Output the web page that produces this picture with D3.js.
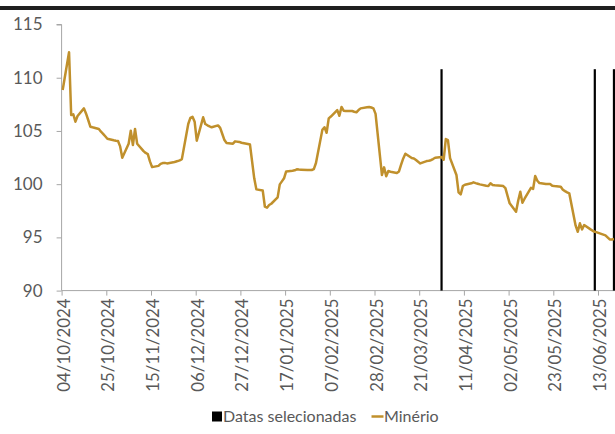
<!DOCTYPE html>
<html>
<head>
<meta charset="utf-8">
<script src="https://cdn.jsdelivr.net/npm/d3@7"></script>
<style>
  html, body { margin: 0; padding: 0; background: #ffffff; }
  svg { display: block; }
  text { font-family: Lato, "Open Sans", "Liberation Sans", sans-serif; fill: #595959; }
</style>
</head>
<body>
<svg id="chart" width="615" height="434"></svg>
<script>
// ---------- DATA ----------
const dates = [
  "04/10/2024","07/10/2024","08/10/2024","09/10/2024","10/10/2024","11/10/2024",
  "14/10/2024","15/10/2024","16/10/2024","17/10/2024","18/10/2024",
  "21/10/2024","22/10/2024","23/10/2024","24/10/2024","25/10/2024",
  "28/10/2024","29/10/2024","30/10/2024","31/10/2024","01/11/2024",
  "04/11/2024","05/11/2024","06/11/2024","07/11/2024","08/11/2024",
  "11/11/2024","12/11/2024","13/11/2024","14/11/2024","15/11/2024",
  "18/11/2024","19/11/2024","20/11/2024","21/11/2024","22/11/2024",
  "25/11/2024","26/11/2024","27/11/2024","28/11/2024","29/11/2024",
  "02/12/2024","03/12/2024","04/12/2024","05/12/2024","06/12/2024",
  "09/12/2024","10/12/2024","11/12/2024","12/12/2024","13/12/2024",
  "16/12/2024","17/12/2024","18/12/2024","19/12/2024","20/12/2024",
  "23/12/2024","24/12/2024","26/12/2024","27/12/2024",
  "30/12/2024","31/12/2024","02/01/2025","03/01/2025",
  "06/01/2025","07/01/2025","08/01/2025","09/01/2025","10/01/2025",
  "13/01/2025","14/01/2025","15/01/2025","16/01/2025","17/01/2025",
  "20/01/2025","21/01/2025","22/01/2025","23/01/2025","24/01/2025",
  "27/01/2025","28/01/2025","29/01/2025","30/01/2025","31/01/2025",
  "03/02/2025","04/02/2025","05/02/2025","06/02/2025","07/02/2025",
  "10/02/2025","11/02/2025","12/02/2025","13/02/2025","14/02/2025",
  "17/02/2025","18/02/2025","19/02/2025","20/02/2025","21/02/2025",
  "24/02/2025","25/02/2025","26/02/2025","27/02/2025","28/02/2025",
  "03/03/2025","04/03/2025","05/03/2025","06/03/2025","07/03/2025",
  "10/03/2025","11/03/2025","12/03/2025","13/03/2025","14/03/2025",
  "17/03/2025","18/03/2025","19/03/2025","20/03/2025","21/03/2025",
  "24/03/2025","25/03/2025","26/03/2025","27/03/2025","28/03/2025",
  "31/03/2025","01/04/2025","02/04/2025","03/04/2025","04/04/2025",
  "07/04/2025","08/04/2025","09/04/2025","10/04/2025","11/04/2025",
  "14/04/2025","15/04/2025","16/04/2025","17/04/2025","18/04/2025",
  "21/04/2025","22/04/2025","23/04/2025","24/04/2025","25/04/2025",
  "28/04/2025","29/04/2025","30/04/2025","02/05/2025",
  "05/05/2025","06/05/2025","07/05/2025","08/05/2025","09/05/2025",
  "12/05/2025","13/05/2025","14/05/2025","15/05/2025","16/05/2025",
  "19/05/2025","20/05/2025","21/05/2025","22/05/2025","23/05/2025",
  "26/05/2025","27/05/2025","28/05/2025","29/05/2025","30/05/2025",
  "02/06/2025","03/06/2025","04/06/2025","05/06/2025","06/06/2025",
  "09/06/2025","10/06/2025","11/06/2025","12/06/2025","13/06/2025",
  "16/06/2025","17/06/2025","18/06/2025","19/06/2025","20/06/2025"
];
const minerio = [
  108.84,112.39,106.5,106.56,105.87,106.4,
  107.12,106.62,106.03,105.4,105.34,
  105.18,104.93,104.73,104.5,104.27,
  104.12,104.08,104.05,103.55,102.48,
  103.8,105.02,103.67,105.18,103.8,
  103.1,102.93,102.83,102.14,101.6,
  101.72,101.9,101.98,102.0,101.95,
  102.05,102.11,102.17,102.24,102.35,
  105.65,106.23,106.33,105.87,104.08,
  106.28,105.65,105.53,105.43,105.34,
  105.52,105.29,104.71,104.14,103.86,
  103.8,104.02,103.97,103.89,
  103.77,103.72,100.55,99.51,
  99.4,97.88,97.79,98.04,98.16,
  98.76,99.98,100.26,100.55,101.2,
  101.26,101.3,101.39,101.37,101.36,
  101.34,101.33,101.33,101.42,101.99,
  105.1,105.34,104.83,106.18,106.35,
  106.96,106.43,107.25,106.9,106.87,
  106.87,106.8,106.75,106.96,107.12,
  107.22,107.25,107.2,107.12,106.6,
  100.86,101.58,100.75,101.23,101.17,
  101.05,101.2,101.83,102.42,102.86,
  102.45,102.42,102.27,102.1,101.95,
  102.17,102.2,102.25,102.36,102.48,
  102.55,102.3,104.24,104.14,102.45,
  100.86,99.23,99.04,99.82,99.95,
  100.08,100.17,100.1,100.04,99.98,
  99.85,99.82,100.08,99.93,99.9,
  99.85,99.82,99.63,98.2,
  97.41,98.44,99.29,98.25,98.63,
  99.66,99.55,100.76,100.32,100.1,
  100.01,100.01,100.01,99.85,99.82,
  99.76,99.48,99.35,99.23,99.14,
  96.1,95.53,96.32,95.75,96.16,
  95.75,95.62,95.53,95.47,95.4,
  95.19,95.0,94.81,94.81,94.85
];
const datasSelecionadas = ["31/03/2025","11/06/2025","20/06/2025"];
const selecionadaValor = 110.8;
const xTickLabels = ["04/10/2024","25/10/2024","15/11/2024","06/12/2024","27/12/2024",
  "17/01/2025","07/02/2025","28/02/2025","21/03/2025","11/04/2025","02/05/2025",
  "23/05/2025","13/06/2025"];
const yTicks = [90, 95, 100, 105, 110, 115];
const legendLabels = ["Datas selecionadas", "Minério"];

// ---------- CHART ----------
const parse = d3.utcParse("%d/%m/%Y");
const fmt = d3.utcFormat("%d/%m/%Y");
const W = 615, H = 434;
const svg = d3.select("#chart");

const x = d3.scaleUtc()
  .domain([parse(xTickLabels[0]), parse(xTickLabels[xTickLabels.length - 1])])
  .range([61.6, 598]);
const y = d3.scaleLinear().domain([90, 115]).range([290.6, 24.5]);
// Excel date axis: points sit in the middle of their day
const xc = d => x(d3.utcHour.offset(d, 12));

const axisColor = "#a6a6a6";

// top dark rule
svg.append("rect").attr("x", 0).attr("y", 6).attr("width", W).attr("height", 4).attr("fill", "#1f1f1f");

// y axis
const yAxis = svg.append("g").attr("transform", "translate(61.6,0)")
  .call(d3.axisLeft(y).tickValues(yTicks).tickSize(5).tickPadding(14).tickFormat(d3.format("d")));
yAxis.select(".domain").attr("stroke", axisColor).attr("d", `M-5,${y(115)}H0V${y(90)}`);
yAxis.selectAll(".tick line").attr("stroke", axisColor);
yAxis.selectAll(".tick text").attr("font-size", 17).attr("fill", "#595959")
  .attr("font-family", "Lato, 'Open Sans', sans-serif");

// x axis
const xAxis = svg.append("g").attr("transform", `translate(0,${y(90)})`)
  .call(d3.axisBottom(x).tickValues(xTickLabels.map(parse)).tickSize(5).tickFormat(fmt));
xAxis.select(".domain").attr("stroke", axisColor).attr("d", `M61.6,0H${W}`);
xAxis.selectAll(".tick line").attr("stroke", axisColor);
xAxis.selectAll(".tick text")
  .attr("font-size", 16.8).attr("fill", "#595959")
  .attr("font-family", "Lato, 'Open Sans', sans-serif")
  .attr("text-anchor", "end")
  .attr("transform", "rotate(-90)")
  .attr("x", -8).attr("y", 0).attr("dy", "0.45em");

// selected dates (black bars)
svg.append("g").selectAll("rect").data(datasSelecionadas).join("rect")
  .attr("x", d => xc(parse(d)) - 1.1)
  .attr("width", 2.2)
  .attr("y", y(selecionadaValor))
  .attr("height", y(90) - y(selecionadaValor))
  .attr("fill", "#000000");

// Minério line
const series = dates.map((d, i) => ({ date: parse(d), value: minerio[i] }));
svg.append("path").datum(series)
  .attr("fill", "none")
  .attr("stroke", "#C0902C")
  .attr("stroke-width", 2.5)
  .attr("stroke-linejoin", "round")
  .attr("d", d3.line().x(d => xc(d.date)).y(d => y(d.value)));

// legend
const lg = svg.append("g");
lg.append("rect").attr("x", 212).attr("y", 411.5).attr("width", 10).attr("height", 10).attr("fill", "#000");
lg.append("text").attr("x", 223).attr("y", 421.5).attr("font-size", 16).text(legendLabels[0]);
lg.append("line").attr("x1", 371.5).attr("x2", 383.5).attr("y1", 416.5).attr("y2", 416.5)
  .attr("stroke", "#C0902C").attr("stroke-width", 2.5);
lg.append("text").attr("x", 384).attr("y", 421.5).attr("font-size", 16).text(legendLabels[1]);
</script>
</body>
</html>
